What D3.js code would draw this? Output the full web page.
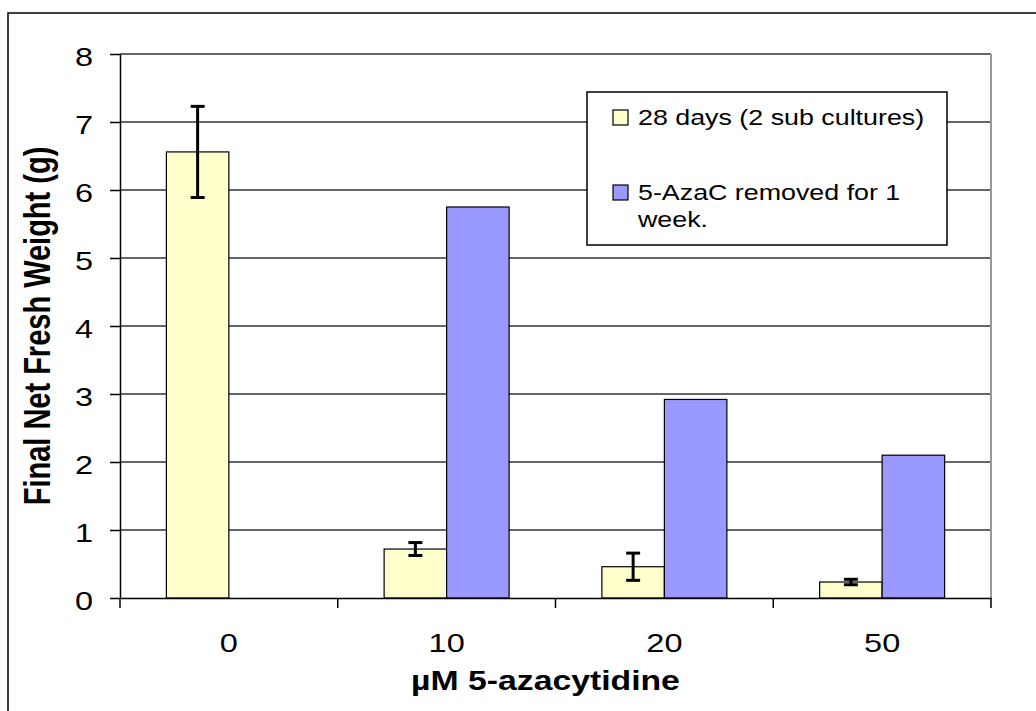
<!DOCTYPE html>
<html>
<head>
<meta charset="utf-8">
<script src="https://cdn.jsdelivr.net/npm/d3@7"></script>
<style>
  body{margin:0;background:#fff;}
  text{font-family:"Liberation Sans",Arial,sans-serif;fill:#000;}
</style>
</head>
<body>
<div id="svg"></div>
<script>
// data
var categories=["0","10","20","50"];
var seriesNames=["28 days (2 sub cultures)","5-AzaC removed for 1 week."];
var days28=[6.56,0.72,0.46,0.235];
var days28Err=[0.67,0.095,0.2,0.04];
var removed=[null,5.75,2.92,2.10];
var yTicks=[0,1,2,3,4,5,6,7,8];
var colors=["#FFFFCC","#9999FF"];

var S=1.25; // the original is stretched sideways
var W=1036,H=711;
var plotLeft=120,plotRight=991,plotTop=54,plotBottom=598;

var svg=d3.select("#svg").append("svg")
  .attr("width",W)
  .attr("height",H);

// outer frame
svg.append("rect")
  .attr("x",8).attr("y",13)
  .attr("width",W+20).attr("height",H+20)
  .attr("fill","#fff")
  .attr("stroke","#000")
  .attr("stroke-width",1.5);

var p=0.426;
var x=d3.scaleBand()
  .domain(categories)
  .range([plotLeft,plotRight])
  .paddingInner(p)
  .paddingOuter(p/2);

var xSub=d3.scaleBand()
  .domain([0,1])
  .range([0,x.bandwidth()]);

var y=d3.scaleLinear()
  .domain([0,8])
  .range([plotBottom,plotTop]);

//gridlines
svg.append("g")
  .selectAll("line")
  .data(yTicks.filter(function(d){return d>0;}))
  .enter().append("line")
  .attr("x1",plotLeft).attr("x2",plotRight)
  .attr("y1",function(d){return y(d);})
  .attr("y2",function(d){return y(d);})
  .attr("stroke","#333")
  .attr("stroke-width",1.5);

// right border of plot
svg.append("line")
  .attr("x1",plotRight).attr("x2",plotRight)
  .attr("y1",y(8)).attr("y2",y(0))
  .attr("stroke","#999")
  .attr("stroke-width",2);

// bars
var rows=[];
for(var i=0;i<categories.length;i++){
  rows.push({cat:categories[i],s:0,v:days28[i],e:days28Err[i]});
  if(removed[i]!=null) rows.push({cat:categories[i],s:1,v:removed[i],e:null});
}

svg.append("g")
  .selectAll("rect")
  .data(rows)
  .enter().append("rect")
  .attr("x",function(d){return x(d.cat)+xSub(d.s);})
  .attr("y",function(d){return y(d.v);})
  .attr("width",xSub.bandwidth())
  .attr("height",function(d){return y(0)-y(d.v);})
  .attr("fill",function(d){return colors[d.s];})
  .attr("stroke","#000")
  .attr("stroke-width",1.2);

// error bars
var errs=rows.filter(function(d){return d.e!=null;});
var eg=svg.append("g").attr("stroke","#000").attr("stroke-width",3);
errs.forEach(function(d){
  var cx=x(d.cat)+xSub(d.s)+xSub.bandwidth()/2;
  eg.append("line")
    .attr("x1",cx).attr("x2",cx)
    .attr("y1",y(d.v+d.e)).attr("y2",y(d.v-d.e));
  [d.v+d.e,d.v-d.e].forEach(function(v){
    eg.append("line")
      .attr("x1",cx-7).attr("x2",cx+7)
      .attr("y1",y(v)).attr("y2",y(v));
  });
});

// y axis
var yAxis=svg.append("g")
  .attr("transform","translate("+plotLeft+",0)")
  .call(d3.axisLeft(y).tickValues(yTicks).tickSize(10).tickSizeOuter(0));
yAxis.select(".domain").attr("stroke","#000").attr("stroke-width",1.5);
yAxis.selectAll(".tick line").attr("stroke","#000").attr("stroke-width",1.5);
yAxis.selectAll(".tick text")
  .attr("x",-27/S)
  .attr("dy","0.45em")
  .attr("transform","scale("+S+",1)")
  .style("font-size","26px")
  .style("font-family","'Liberation Sans',Arial,sans-serif")
  .attr("fill","#000");

// x axis, labels at band centres
var xAxis=svg.append("g")
  .attr("transform","translate(0,"+plotBottom+")")
  .call(d3.axisBottom(x).tickSize(0).tickSizeOuter(0));
xAxis.select(".domain").attr("stroke","#000").attr("stroke-width",1.5);
xAxis.selectAll(".tick text")
  .attr("y",54)
  .attr("dy",0)
  .attr("transform","scale("+S+",1)")
  .style("font-size","26px")
  .style("font-family","'Liberation Sans',Arial,sans-serif")
  .attr("fill","#000");

// x tick marks sit between categories
var bounds=d3.range(categories.length+1).map(function(i){return x.range()[0]+i*x.step();});
xAxis.selectAll(".bound")
  .data(bounds)
  .enter().append("line")
  .attr("class","bound")
  .attr("x1",function(d){return d;}).attr("x2",function(d){return d;})
  .attr("y1",0).attr("y2",10)
  .attr("stroke","#000")
  .attr("stroke-width",1.5);

// axis titles
svg.append("text")
  .attr("transform","translate("+((plotLeft+plotRight)/2-10)+",690) scale("+S+",1)")
  .attr("text-anchor","middle")
  .style("font-size","27px")
  .style("font-weight","bold")
  .text("\u00b5M 5-azacytidine");

svg.append("text")
  .attr("transform","translate(50,326) scale("+S+",1) rotate(-90)")
  .attr("text-anchor","middle")
  .style("font-size","29px")
  .style("font-weight","bold")
  .text("Final Net Fresh Weight (g)");

// legend
var legend=svg.append("g");
legend.append("rect")
  .attr("x",587).attr("y",92)
  .attr("width",360).attr("height",153)
  .attr("fill","#fff")
  .attr("stroke","#000")
  .attr("stroke-width",1.5);

var legendLines=[["28 days (2 sub cultures)"],["5-AzaC removed for 1","week."]];
var legendY=[125,200];
legendLines.forEach(function(lines,k){
  legend.append("rect")
    .attr("x",613).attr("y",legendY[k]-15)
    .attr("width",15).attr("height",15)
    .attr("fill",colors[k])
    .attr("stroke","#000")
    .attr("stroke-width",1.2);
  lines.forEach(function(t,j){
    legend.append("text")
      .attr("transform","translate(638,"+(legendY[k]+j*27)+") scale("+(S-0.03)+",1)")
      .style("font-size","22px")
      .text(t);
  });
});
</script>
</body>
</html>
